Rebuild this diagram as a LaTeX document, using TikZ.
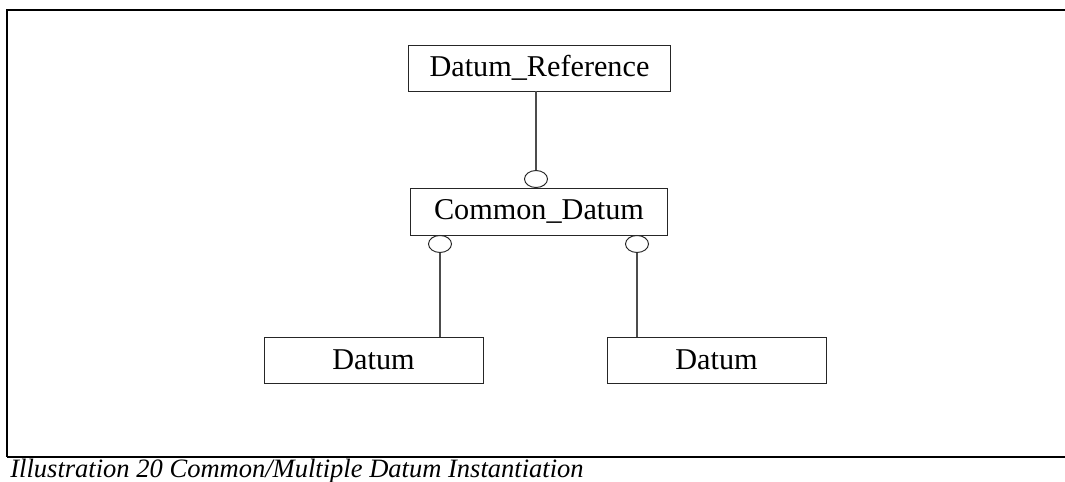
\documentclass[tikz,border=0pt]{standalone}
\usepackage{fontspec}
\setmainfont{Liberation Serif}
\usepackage{tikz}
\usetikzlibrary{shapes.geometric}

\begin{document}
\begin{tikzpicture}[x=0.02cm, y=-0.02cm,
        entity/.style={draw=black!85, line width=0.55pt, rectangle, inner sep=0pt, minimum height=0.92cm, font=\fontsize{17.2}{20}\selectfont},
        ring/.style={draw=black!85, line width=0.55pt, ellipse, inner sep=0pt, minimum width=0.46cm, minimum height=0.34cm},
        link/.style={black!70, line width=0.6pt}]
        \useasboundingbox (0,0) rectangle (1065,482);

        \draw[black, line width=1.15pt] (7,457) -- (7,10) -- (1065,10);
        \draw[black, line width=0.75pt] (7,457) -- (1065,457);

        \node[entity, minimum width=5.26cm] (dref) at (539.5,68) {Datum\_Reference};
        \node[entity, minimum width=5.16cm, minimum height=0.94cm] (cdatum) at (539,211.5) {Common\_Datum};
        \node[entity, minimum width=4.38cm] (datumL) at (373.5,360) {Datum};
        \node[entity, minimum width=4.38cm] (datumR) at (716.5,360) {Datum};

        \node[ring, anchor=south] (ringtop) at (536,188) {};
        \node[ring, anchor=north] (ringL) at (440,235) {};
        \node[ring, anchor=north] (ringR) at (637,235) {};

        \draw[link] (dref.south -| ringtop.north) -- (ringtop.north);
        \draw[link] (ringL.south) -- (ringL.south |- datumL.north);
        \draw[link] (ringR.south) -- (ringR.south |- datumR.north);

        \node[anchor=base west, inner sep=0pt, font=\fontsize{15.1}{18}\selectfont\itshape] (caption) at (10,478) {Illustration 20 Common/Multiple Datum Instantiation};
\end{tikzpicture}
\end{document}
